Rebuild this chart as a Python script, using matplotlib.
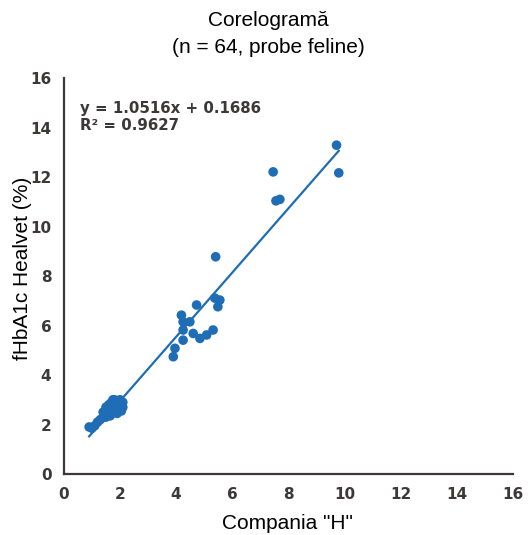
"""
Corelograma fHbA1c Healvet vs Compania "H" (probe feline).
"""

import numpy as np
import matplotlib.pyplot as plt

# values
companie_h = [
    0.9, 1.0, 1.1, 1.2, 1.3, 1.4, 1.4, 1.5, 1.5, 1.5, 1.6, 1.6, 1.6, 1.65,
    1.7, 1.7, 1.7, 1.75, 1.8, 1.8, 1.8, 1.9, 1.9, 1.9, 2.0, 2.0, 2.0, 2.05,
    2.1, 2.1,
    3.90, 3.96, 4.19, 4.25, 4.25, 4.25, 4.49, 4.61, 4.73, 4.85, 5.09, 5.32,
    5.38, 5.41, 5.49, 5.56,
    7.46, 7.56, 7.70, 9.72, 9.80,
]
healvet = [
    1.9, 1.85, 1.95, 2.1, 2.2, 2.3, 2.5, 2.3, 2.5, 2.7, 2.4, 2.6, 2.8, 2.35,
    2.5, 2.7, 2.9, 3.0, 2.6, 2.8, 3.0, 2.45, 2.7, 2.9, 2.6, 2.8, 3.0, 2.55,
    2.7, 2.9,
    4.74, 5.08, 6.42, 6.15, 5.82, 5.41, 6.15, 5.68, 6.83, 5.48, 5.62, 5.82,
    7.11, 8.78, 6.76, 7.03,
    12.21, 11.04, 11.10, 13.29, 12.17,
]
ticks = [0, 2, 4, 6, 8, 10, 12, 14, 16]

blue = "#1f6db5"
dark = "#3c3838"

x = np.array(companie_h)
y = np.array(healvet)
slope, intercept = np.polyfit(x, y, 1)

fig = plt.figure(figsize=(5.28, 5.35), dpi=100)
ax = fig.add_axes([0.121, 0.114, 0.850, 0.740])

ax.scatter(x, y, s=48, color=blue, edgecolors="none", zorder=3)
xl = np.array([x.min(), x.max()])
ax.plot(xl, slope * xl + intercept, color=blue, lw=1.6, zorder=2)

ax.set_xlim(0, 16)
ax.set_ylim(0, 16)
ax.set_xticks(ticks)
ax.set_yticks(ticks)
ax.tick_params(length=0, pad=9, labelsize=11, labelcolor=dark)
for lab in ax.get_xticklabels() + ax.get_yticklabels():
    lab.set_fontweight("bold")

for side in ["top", "right"]:
    ax.spines[side].set_visible(False)
for side in ["left", "bottom"]:
    ax.spines[side].set_color(dark)
    ax.spines[side].set_linewidth(1.6)

ax.text(0.035, 0.942, "y = 1.0516x + 0.1686\nR² = 0.9627", transform=ax.transAxes,
        fontsize=10.8, fontweight="bold", color=dark, va="top", linespacing=1.15)

ax.set_xlabel('Compania "H"', fontsize=15, family="Liberation Sans")
ax.xaxis.set_label_coords(0.499, -0.102)
ax.set_ylabel("fHbA1c Healvet (%)", fontsize=15, family="Liberation Sans")
ax.yaxis.set_label_coords(-0.071, 0.52)

fig.text(0.508, 0.961, "Corelogramă", ha="center", va="center",
         fontsize=15, family="Liberation Sans")
fig.text(0.508, 0.912, "(n = 64, probe feline)", ha="center", va="center",
         fontsize=15, family="Liberation Sans")

fig.savefig("out.png", dpi=100)
